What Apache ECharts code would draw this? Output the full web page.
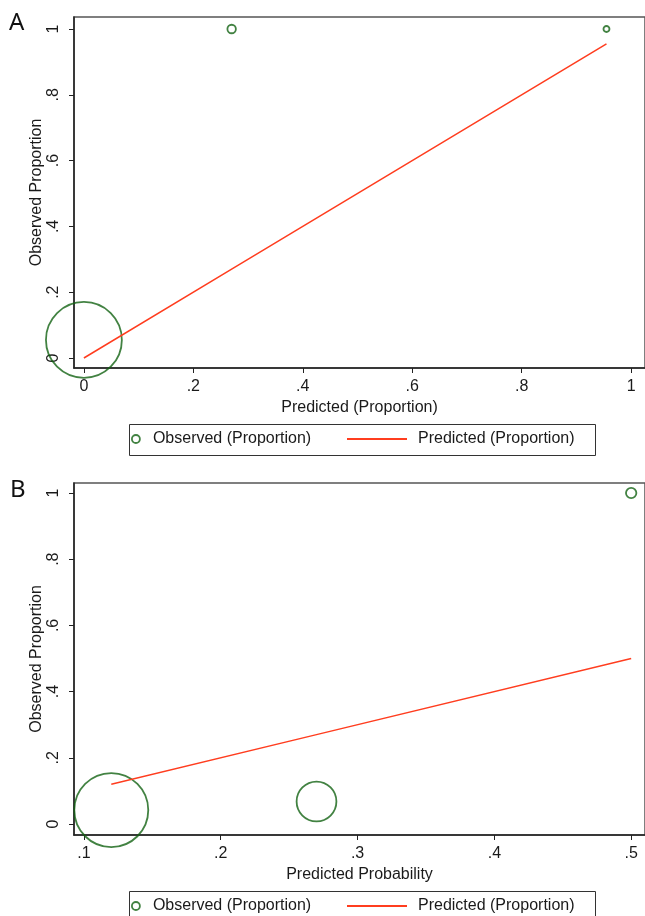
<!DOCTYPE html>
<html>
<head>
<meta charset="utf-8">
<script src="https://cdn.jsdelivr.net/npm/echarts@6/dist/echarts.min.js"></script>
<style>
  html, body { margin: 0; padding: 0; background: #fff; }
  #chart { width: 645px; height: 916px; }
</style>
</head>
<body>
<div id="chart"></div>
<script>
// panel A
const predA = [0, 0.27, 0.955]
const obsA = [0.055, 1, 1]
const countA = [160, 2, 1]
// panel B
const predB = [0.12, 0.27, 0.5]
const obsB = [0.042, 0.068, 1]
const countB = [152, 44, 3]

const yTicks = [0, 0.2, 0.4, 0.6, 0.8, 1]
const yTickLabels = ['0', '.2', '.4', '.6', '.8', '1']
const xTicksA = [0, 0.2, 0.4, 0.6, 0.8, 1]
const xTickLabelsA = ['0', '.2', '.4', '.6', '.8', '1']
const xTicksB = [0.1, 0.2, 0.3, 0.4, 0.5]
const xTickLabelsB = ['.1', '.2', '.3', '.4', '.5']

const green = '#136313'
const red = '#ff3d1f'
const font = 'Liberation Sans, Arial, sans-serif'
const ink = '#1a1a1a'

function tickFmt(ticks, labels) {
  return function (v) {
    for (let i = 0; i < ticks.length; i++) {
      if (Math.abs(ticks[i] - v) < 1e-9) return labels[i]
    }
    return ''
  }
}

function xAxis(idx, min, max, ticks, labels, name) {
  return {
    type: 'value', gridIndex: idx, min: min, max: max,
    name: name, nameLocation: 'middle', nameGap: 32, nameMoveOverlap: false,
    nameTextStyle: { fontFamily: font, fontSize: 16, color: ink },
    splitLine: { show: false },
    axisLine: { onZero: false, lineStyle: { color: '#222', width: 1.5 } },
    axisTick: { show: true, length: 5, customValues: ticks, lineStyle: { color: '#222' } },
    axisLabel: { customValues: ticks, formatter: tickFmt(ticks, labels), margin: 11,
      fontFamily: font, fontSize: 16, color: ink }
  }
}

function yAxis(idx, min, max) {
  return {
    type: 'value', gridIndex: idx, min: min, max: max,
    name: 'Observed Proportion', nameLocation: 'middle', nameGap: 29, nameMoveOverlap: false,
    nameTextStyle: { fontFamily: font, fontSize: 16, color: ink },
    splitLine: { show: false },
    axisLine: { show: true, onZero: false, lineStyle: { color: '#222', width: 1.5 } },
    axisTick: { show: true, length: 5, customValues: yTicks, lineStyle: { color: '#222' } },
    axisLabel: { customValues: yTicks, formatter: tickFmt(yTicks, yTickLabels), rotate: 90,
      margin: 12, fontFamily: font, fontSize: 16, color: ink }
  }
}

function pairs(xs, ys) {
  return xs.map((x, i) => [x, ys[i]])
}

function bubble(counts) {
  return function (val, params) {
    return 6 * Math.sqrt(counts[params.dataIndex])
  }
}

function legendPair(top) {
  return [
    { data: ['Observed (Proportion)'], left: 131, top: top, padding: 0, itemWidth: 8, itemHeight: 8,
      selectedMode: false, icon: 'circle',
      itemStyle: { color: 'rgba(0,0,0,0)', borderColor: green, borderWidth: 1.8 },
      textStyle: { fontFamily: font, fontSize: 16, color: ink, padding: [0, 0, 0, 8] } },
    { data: ['Predicted (Proportion)'], left: 347, top: top, padding: 0, itemWidth: 60, itemHeight: 2,
      selectedMode: false, icon: 'rect', itemStyle: { color: red },
      textStyle: { fontFamily: font, fontSize: 16, color: ink, padding: [0, 0, 0, 6] } }
  ]
}

const option = {
  backgroundColor: '#fff',
  animation: false,
  grid: [
    { left: 74, top: 17, right: -5, height: 351, show: true, borderColor: '#555', borderWidth: 1.5 },
    { left: 74, top: 483, right: -5, height: 352, show: true, borderColor: '#555', borderWidth: 1.5 }
  ],
  xAxis: [
    xAxis(0, -0.0181, 1.0254, xTicksA, xTickLabelsA, 'Predicted (Proportion)'),
    xAxis(1, 0.09275, 0.5101, xTicksB, xTickLabelsB, 'Predicted Probability')
  ],
  yAxis: [
    yAxis(0, -0.0304, 1.0365),
    yAxis(1, -0.0332, 1.0302)
  ],
  legend: legendPair(431).concat(legendPair(898)),
  graphic: [
    { type: 'rect', left: 127, top: 422, shape: { width: 466, height: 31 },
      style: { fill: 'none', stroke: '#333', lineWidth: 1 } },
    { type: 'rect', left: 127, top: 889, shape: { width: 466, height: 40 },
      style: { fill: 'none', stroke: '#333', lineWidth: 1 } },
    { type: 'text', left: 9, top: 11, style: { text: 'A', font: '24px "Noto Sans", sans-serif', fill: '#111' } },
    { type: 'text', left: 10, top: 478, style: { text: 'B', font: '24px "Noto Sans", sans-serif', fill: '#111' } }
  ],
  series: [
    { name: 'Observed (Proportion)', type: 'scatter', xAxisIndex: 0, yAxisIndex: 0, clip: false,
      data: pairs(predA, obsA), symbol: 'circle', symbolSize: bubble(countA),
      itemStyle: { color: 'rgba(0,0,0,0)', borderColor: green, borderWidth: 1.8 } },
    { name: 'Predicted (Proportion)', type: 'line', xAxisIndex: 0, yAxisIndex: 0,
      data: pairs(predA, predA), symbol: 'none', lineStyle: { color: red, width: 1.5 }, itemStyle: { color: red } },
    { name: 'Observed (Proportion)', type: 'scatter', xAxisIndex: 1, yAxisIndex: 1, clip: false,
      data: pairs(predB, obsB), symbol: 'circle', symbolSize: bubble(countB),
      itemStyle: { color: 'rgba(0,0,0,0)', borderColor: green, borderWidth: 1.8 } },
    { name: 'Predicted (Proportion)', type: 'line', xAxisIndex: 1, yAxisIndex: 1,
      data: pairs(predB, predB), symbol: 'none', lineStyle: { color: red, width: 1.5 }, itemStyle: { color: red } }
  ]
}

const chart = echarts.init(document.getElementById('chart'))
chart.setOption(option)
</script>
</body>
</html>
